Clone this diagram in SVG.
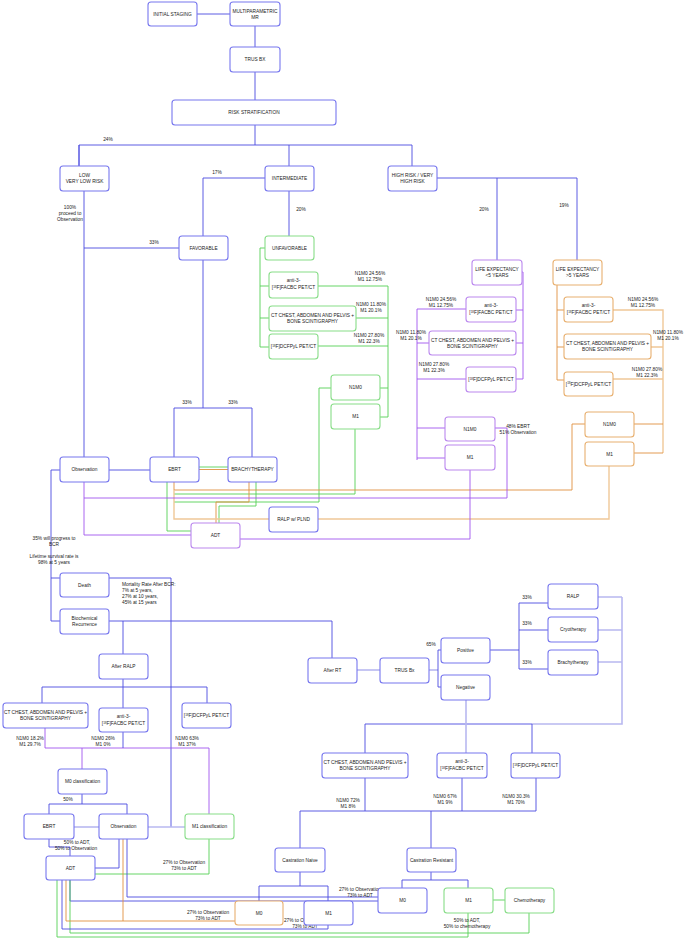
<svg xmlns="http://www.w3.org/2000/svg" width="685" height="940" viewBox="0 0 685 940">
<style>
rect{fill:#fff;stroke-width:1.1}
.b{stroke:#7777ee}.g{stroke:#88dd88}.p{stroke:#bb88ee}.o{stroke:#e8b070}
text{font-family:"Liberation Sans",Arial,sans-serif;font-size:4.8px;fill:#222;text-anchor:middle}
.l{text-anchor:start}
path{fill:none;stroke-width:0.9}
.cb{stroke:#4a4ae0}.cg{stroke:#55d055}.cp{stroke:#a055ee}.co{stroke:#e09040}
.cl{stroke:#b8b8f0;stroke-width:1.6}
.clo{stroke:#f0c898;stroke-width:1.4}
.clp{stroke:#cfa0f4;stroke-width:1.4}
.s{font-size:3px}
</style>
<defs>
<marker id="ab" markerWidth="4" markerHeight="4" refX="3.5" refY="2" orient="auto" markerUnits="userSpaceOnUse"><path d="M0,0.4 L3.5,2 L0,3.6z" fill="#3030d0" stroke="none"/></marker>
<marker id="ag" markerWidth="4" markerHeight="4" refX="3.5" refY="2" orient="auto" markerUnits="userSpaceOnUse"><path d="M0,0.4 L3.5,2 L0,3.6z" fill="#30b030" stroke="none"/></marker>
<marker id="ap" markerWidth="4" markerHeight="4" refX="3.5" refY="2" orient="auto" markerUnits="userSpaceOnUse"><path d="M0,0.4 L3.5,2 L0,3.6z" fill="#8a30e0" stroke="none"/></marker>
<marker id="ao" markerWidth="4" markerHeight="4" refX="3.5" refY="2" orient="auto" markerUnits="userSpaceOnUse"><path d="M0,0.4 L3.5,2 L0,3.6z" fill="#d07820" stroke="none"/></marker>
</defs>

<g id="connectors">
<path class="cb" d="M197 14H230" marker-end="url(#ab)"/>
<path class="cb" d="M255 26V47" marker-end="url(#ab)"/>
<path class="cb" d="M255 72V100" marker-end="url(#ab)"/>
<path class="cb" d="M255 125V145M79 166V145H412V166" marker-end="url(#ab)"/>
<path class="cb" d="M79 145V166" marker-end="url(#ab)"/>
<path class="cb" d="M289 145V166" marker-end="url(#ab)"/>
<path class="cb" d="M265 178H203V236" marker-end="url(#ab)"/>
<path class="cb" d="M289 191V236" marker-end="url(#ab)"/>
<path class="cb" d="M437 178H577V260" marker-end="url(#ab)"/>
<path class="cb" d="M497 178V260" marker-end="url(#ab)"/>
<path class="cb" d="M84 191V457" marker-end="url(#ab)"/>
<path class="cb" d="M179 248H84"/>
<path class="cb" d="M203 260V408H174V457" marker-end="url(#ab)"/>
<path class="cb" d="M203 408H252V457" marker-end="url(#ab)"/>
<path class="cb" d="M150 470H109" marker-end="url(#ab)"/>

<path class="cg" d="M265 248H260V347"/>
<path class="cg" d="M260 286H269" marker-end="url(#ag)"/>
<path class="cg" d="M260 318H269" marker-end="url(#ag)"/>
<path class="cg" d="M260 347H269" marker-end="url(#ag)"/>
<path class="cg" d="M318 286H388V417M356 318H388M318 346H388"/>
<path class="cg" d="M388 388H380" marker-end="url(#ag)"/>
<path class="cg" d="M388 417H380" marker-end="url(#ag)"/>

<path class="cp" d="M522 272H523V379"/>
<path class="cp" d="M523 310H516" marker-end="url(#ap)"/>
<path class="cp" d="M523 343H516" marker-end="url(#ap)"/>
<path class="cp" d="M523 379H516" marker-end="url(#ap)"/>
<path class="cp" d="M466 309H417V460M429 343H417M466 379H417"/>
<path class="cp" d="M417 428H445" marker-end="url(#ap)"/>
<path class="cp" d="M417 458H445" marker-end="url(#ap)"/>

<path class="co" d="M557 285V380"/>
<path class="co" d="M557 310H564" marker-end="url(#ao)"/>
<path class="co" d="M557 347H564" marker-end="url(#ao)"/>
<path class="co" d="M557 380H564" marker-end="url(#ao)"/>
<path class="clo" d="M613 310H663V453M651 347H663M613 379H663"/>
<path class="co" d="M663 424H634" marker-end="url(#ao)"/>
<path class="co" d="M663 453H634" marker-end="url(#ao)"/>

<path class="cg" d="M199 467H228" marker-end="url(#ag)"/>
<path class="co" d="M199 469.5H228" marker-end="url(#ao)"/>
<path class="cg" d="M167 482V531H191" marker-end="url(#ag)"/>
<path class="cg" d="M331 388H319V502H174"/>
<path class="cg" d="M355 429V494H174"/>
<path class="cg" d="M256 482V506H219V523" marker-end="url(#ag)"/>
<path class="co" d="M249 482V502H216V523" marker-end="url(#ao)"/>
<path class="co" d="M585 424H572V490H174V482" marker-end="url(#ao)"/>
<path class="clo" d="M609 466V519H318" marker-end="url(#ao)"/>
<path class="clo" d="M269 519H174V490"/>
<path class="cp" d="M495 428H507V498H84"/>
<path class="cp" d="M191 535H84V482" marker-end="url(#ap)"/>
<path class="cp" d="M470 470V539H240" marker-end="url(#ap)"/>

<path class="cb" d="M60 470H51V621H60" marker-end="url(#ab)"/>
<path class="cb" d="M51 578H60" marker-end="url(#ab)"/>
<path class="cb" d="M109 621H332V658" marker-end="url(#ab)"/>
<path class="cb" d="M123 621V654" marker-end="url(#ab)"/>
<path class="cb" d="M171 827V578H109" marker-end="url(#ab)"/>
<path class="cb" d="M123 679V708" marker-end="url(#ab)"/>
<path class="cb" d="M42 687H207V703" marker-end="url(#ab)"/>
<path class="cb" d="M42 687V703" marker-end="url(#ab)"/>
<path class="cp" d="M45 728V748H209V814" marker-end="url(#ap)"/>
<path class="cb" d="M123 732V748"/>
<path class="cp" d="M82 748V769" marker-end="url(#ap)"/>
<path class="cb" d="M82 794V804H127V814" marker-end="url(#ab)"/>
<path class="cb" d="M82 804H49V814" marker-end="url(#ab)"/>
<path class="cl" d="M74 827H99" marker-end="url(#ab)"/>
<path class="cl" d="M185 827H148" marker-end="url(#ab)"/>
<path class="cb" d="M49 839V847H70V856" marker-end="url(#ab)"/>
<path class="cb" d="M95 868H119V839" marker-end="url(#ab)"/>
<path class="cg" d="M209 839V874H95" marker-end="url(#ag)"/>

<path class="cl" d="M357 670H380" marker-end="url(#ab)"/>
<path class="cl" d="M429 670H438"/>
<path class="cb" d="M438 650V687"/>
<path class="cb" d="M438 650H441" marker-end="url(#ab)"/>
<path class="cb" d="M438 687H441" marker-end="url(#ab)"/>
<path class="cb" d="M490 650H519M519 603V669"/>
<path class="cb" d="M519 603H548" marker-end="url(#ab)"/>
<path class="cb" d="M519 630H548" marker-end="url(#ab)"/>
<path class="cb" d="M519 669H548" marker-end="url(#ab)"/>
<path class="cl" d="M598 597H622M598 630H622M598 662H622M622 597V724H532"/>
<path class="cb" d="M532 724H365V753" marker-end="url(#ab)"/>
<path class="cb" d="M532 724V753" marker-end="url(#ab)"/>
<path class="cl" d="M466 700V753" marker-end="url(#ab)"/>
<path class="cb" d="M365 778V811M462 778V811M536 778V811H300V848" marker-end="url(#ab)"/>
<path class="cb" d="M431 811V848" marker-end="url(#ab)"/>
<path class="cb" d="M300 872V886H259V901" marker-end="url(#ab)"/>
<path class="cb" d="M300 886H328V901" marker-end="url(#ab)"/>
<path class="cb" d="M431 872V880H402V888" marker-end="url(#ab)"/>
<path class="cb" d="M431 880H468V888" marker-end="url(#ab)"/>
<path class="cg" d="M493 900H505" marker-end="url(#ag)"/>
<path class="cb" d="M378 901H70V880" marker-end="url(#ab)"/>
<path class="cg" d="M529 913V933H70V880" marker-end="url(#ag)"/>
<path class="cg" d="M468 913V937H57V880" marker-end="url(#ag)"/>
<path class="cb" d="M378 897H127V839" marker-end="url(#ab)"/>
<path class="co" d="M235 921H66V880" marker-end="url(#ao)"/>
<path class="co" d="M123 921V839" marker-end="url(#ao)"/>
<path class="cb" d="M328 925V929H62V880" marker-end="url(#ab)"/>
</g>

<g id="labels">
<text x="108" y="141">24%</text>
<text x="217" y="174">17%</text>
<text x="301" y="211">20%</text>
<text x="484" y="211">20%</text>
<text x="564" y="207">19%</text>
<text x="70" y="209">100%</text>
<text x="70" y="215">proceed to</text>
<text x="70" y="221">Observation</text>
<text x="154" y="244">33%</text>
<text x="187" y="404">33%</text>
<text x="233" y="404">33%</text>
<text x="370" y="275">N1M0 24.56%</text><text x="370" y="281">M1 12.75%</text>
<text x="371" y="306">N1M0 11.80%</text><text x="371" y="312">M1 20.1%</text>
<text x="369" y="337">N1M0 27.80%</text><text x="369" y="343">M1 22.3%</text>
<text x="441" y="301">N1M0 24.56%</text><text x="441" y="307">M1 12.75%</text>
<text x="411" y="334">N1M0 11.80%</text><text x="411" y="340">M1 20.1%</text>
<text x="434" y="366">N1M0 27.80%</text><text x="434" y="372">M1 22.3%</text>
<text x="643" y="301">N1M0 24.56%</text><text x="643" y="307">M1 12.75%</text>
<text x="668" y="334">N1M0 11.80%</text><text x="668" y="340">M1 20.1%</text>
<text x="647" y="371">N1M0 27.80%</text><text x="647" y="377">M1 22.3%</text>
<text x="518" y="428">48% EBRT</text><text x="518" y="434">51% Observation</text>
<text x="54" y="540">35% will progress to</text><text x="54" y="546">BCR</text>
<text x="54" y="558">Lifetime survival rate is</text><text x="54" y="564">98% at 5 years</text>
<text class="l" x="122" y="586">Mortality Rate After BCR:</text>
<text class="l" x="122" y="592">7% at 5 years,</text>
<text class="l" x="122" y="598">27% at 10 years,</text>
<text class="l" x="122" y="604">45% at 15 years</text>
<text x="30" y="740">N1M0 18.2%</text><text x="30" y="746">M1 29.7%</text>
<text x="103" y="740">N1M0 26%</text><text x="103" y="746">M1 0%</text>
<text x="187" y="740">N1M0 63%</text><text x="187" y="746">M1 37%</text>
<text x="68" y="801">50%</text>
<text x="77" y="844">50% to ADT,</text><text x="76" y="850">50% to Observation</text>
<text x="184" y="864">27% to Observation</text><text x="184" y="870">73% to ADT</text>
<text x="208" y="914">27% to Observation</text><text x="208" y="920">73% to ADT</text>
<text x="305" y="922">27% to Observation</text><text x="305" y="928">73% to ADT</text>
<text x="360" y="891">27% to Observation</text><text x="360" y="897">73% to ADT</text>
<text x="467" y="922">50% to ADT,</text><text x="467" y="928">50% to chemotherapy</text>
<text x="431" y="646">65%</text>
<text x="527" y="599">33%</text>
<text x="527" y="625">33%</text>
<text x="527" y="664">33%</text>
<text x="348" y="802">N1M0 72%</text><text x="348" y="808">M1 8%</text>
<text x="445" y="798">N1M0 67%</text><text x="445" y="804">M1 9%</text>
<text x="516" y="798">N1M0 30.3%</text><text x="516" y="804">M1 70%</text>
</g>

<g id="n_initial"><rect class="b" x="148" y="2" width="49" height="24" rx="3"/><text x="172.5" y="15.7">INITIAL STAGING</text></g>
<g id="n_mpmr"><rect class="b" x="230" y="2" width="50" height="24" rx="3"/><text x="255" y="12.7">MULTIPARAMETRIC</text><text x="255" y="18.7">MR</text></g>
<g id="n_trusbx"><rect class="b" x="230" y="47" width="50" height="25" rx="3"/><text x="255" y="61.2">TRUS BX</text></g>
<g id="n_risk"><rect class="b" x="172" y="100" width="164" height="25" rx="3"/><text x="254" y="114.2">RISK STRATIFICATION</text></g>
<g id="n_low"><rect class="b" x="60" y="166" width="49" height="25" rx="3"/><text x="84.5" y="177.2">LOW</text><text x="84.5" y="183.2">VERY LOW RISK</text></g>
<g id="n_inter"><rect class="b" x="265" y="166" width="49" height="25" rx="3"/><text x="289.5" y="180.2">INTERMEDIATE</text></g>
<g id="n_high"><rect class="b" x="388" y="166" width="49" height="25" rx="3"/><text x="412.5" y="177.2">HIGH RISK / VERY</text><text x="412.5" y="183.2">HIGH RISK</text></g>
<g id="n_fav"><rect class="b" x="179" y="236" width="49" height="24" rx="3"/><text x="203.5" y="249.7">FAVORABLE</text></g>
<g id="n_unfav"><rect class="g" x="265" y="236" width="49" height="24" rx="3"/><text x="289.5" y="249.7">UNFAVORABLE</text></g>
<g id="n_g_facbc"><rect class="g" x="269" y="272" width="49" height="26" rx="3"/><text x="293.5" y="282">anti-3-</text><text x="293.5" y="289">[<tspan class="s" dy="-1.4">18</tspan><tspan dy="1.4">F]FACBC PET/CT</tspan></text></g>
<g id="n_g_ct"><rect class="g" x="269" y="306" width="87" height="25" rx="3"/><text x="312.5" y="317">CT CHEST, ABDOMEN AND PELVIS +</text><text x="312.5" y="323">BONE SCINTIGRAPHY</text></g>
<g id="n_g_dcf"><rect class="g" x="269" y="334" width="49" height="25" rx="3"/><text x="293.5" y="348.2">[<tspan class="s" dy="-1.4">18</tspan><tspan dy="1.4">F]DCFPyL PET/CT</tspan></text></g>
<g id="n_g_n1m0"><rect class="g" x="331" y="375" width="49" height="25" rx="3"/><text x="355.5" y="389.2">N1M0</text></g>
<g id="n_g_m1"><rect class="g" x="331" y="404" width="49" height="25" rx="3"/><text x="355.5" y="418.2">M1</text></g>
<g id="n_le5"><rect class="p" x="472" y="260" width="50" height="25" rx="3"/><text x="497" y="271.2">LIFE EXPECTANCY</text><text x="497" y="277.2">&lt;5 YEARS</text></g>
<g id="n_le5p"><rect class="o" x="553" y="260" width="49" height="25" rx="3"/><text x="577.5" y="271.2">LIFE EXPECTANCY</text><text x="577.5" y="277.2">&gt;5 YEARS</text></g>
<g id="n_p_facbc"><rect class="p" x="466" y="297" width="50" height="25" rx="3"/><text x="491" y="307">anti-3-</text><text x="491" y="314">[<tspan class="s" dy="-1.4">18</tspan><tspan dy="1.4">F]FACBC PET/CT</tspan></text></g>
<g id="n_p_ct"><rect class="p" x="429" y="331" width="87" height="24" rx="3"/><text x="472.5" y="341.5">CT CHEST, ABDOMEN AND PELVIS +</text><text x="472.5" y="347.5">BONE SCINTIGRAPHY</text></g>
<g id="n_p_dcf"><rect class="p" x="466" y="367" width="50" height="25" rx="3"/><text x="491" y="381.2">[<tspan class="s" dy="-1.4">18</tspan><tspan dy="1.4">F]DCFPyL PET/CT</tspan></text></g>
<g id="n_p_n1m0"><rect class="p" x="445" y="417" width="50" height="24" rx="3"/><text x="470" y="430.7">N1M0</text></g>
<g id="n_p_m1"><rect class="p" x="445" y="445" width="50" height="25" rx="3"/><text x="470" y="459.2">M1</text></g>
<g id="n_o_facbc"><rect class="o" x="564" y="297" width="49" height="25" rx="3"/><text x="588.5" y="307">anti-3-</text><text x="588.5" y="314">[<tspan class="s" dy="-1.4">18</tspan><tspan dy="1.4">F]FACBC PET/CT</tspan></text></g>
<g id="n_o_ct"><rect class="o" x="564" y="334" width="87" height="25" rx="3"/><text x="607.5" y="345">CT CHEST, ABDOMEN AND PELVIS +</text><text x="607.5" y="351">BONE SCINTIGRAPHY</text></g>
<g id="n_o_dcf"><rect class="o" x="564" y="372" width="49" height="24" rx="3"/><text x="588.5" y="385.7">[<tspan class="s" dy="-1.4">18</tspan><tspan dy="1.4">F]DCFPyL PET/CT</tspan></text></g>
<g id="n_o_n1m0"><rect class="o" x="585" y="412" width="49" height="25" rx="3"/><text x="609.5" y="426.2">N1M0</text></g>
<g id="n_o_m1"><rect class="o" x="585" y="442" width="49" height="24" rx="3"/><text x="609.5" y="455.7">M1</text></g>
<g id="n_obs"><rect class="b" x="60" y="457" width="49" height="25" rx="3"/><text x="84.5" y="471.2">Observation</text></g>
<g id="n_ebrt"><rect class="b" x="150" y="457" width="49" height="25" rx="3"/><text x="174.5" y="471.2">EBRT</text></g>
<g id="n_brachy"><rect class="b" x="228" y="457" width="49" height="25" rx="3"/><text x="252.5" y="471.2">BRACHYTHERAPY</text></g>
<g id="n_adt"><rect class="p" x="191" y="523" width="49" height="25" rx="3"/><text x="215.5" y="537.2">ADT</text></g>
<g id="n_ralp_plnd"><rect class="b" x="269" y="507" width="49" height="25" rx="3"/><text x="293.5" y="521.2">RALP w/ PLND</text></g>
<g id="n_death"><rect class="b" x="60" y="573" width="49" height="24" rx="3"/><text x="84.5" y="586.7">Death</text></g>
<g id="n_bcr"><rect class="b" x="60" y="609" width="49" height="25" rx="3"/><text x="84.5" y="620.2">Biochemical</text><text x="84.5" y="626.2">Recurrence</text></g>
<g id="n_after_ralp"><rect class="b" x="99" y="654" width="49" height="25" rx="3"/><text x="123.5" y="668.2">After RALP</text></g>
<g id="n_ct2"><rect class="b" x="3" y="703" width="85" height="25" rx="3"/><text x="45.5" y="714">CT CHEST, ABDOMEN AND PELVIS +</text><text x="45.5" y="720">BONE SCINTIGRAPHY</text></g>
<g id="n_facbc2"><rect class="b" x="99" y="708" width="49" height="24" rx="3"/><text x="123.5" y="718">anti-3-</text><text x="123.5" y="725">[<tspan class="s" dy="-1.4">18</tspan><tspan dy="1.4">F]FACBC PET/CT</tspan></text></g>
<g id="n_dcf2"><rect class="b" x="182" y="703" width="49" height="25" rx="3"/><text x="206.5" y="717.2">[<tspan class="s" dy="-1.4">18</tspan><tspan dy="1.4">F]DCFPyL PET/CT</tspan></text></g>
<g id="n_m0class"><rect class="b" x="58" y="769" width="49" height="25" rx="3"/><text x="82.5" y="783.2">M0 classification</text></g>
<g id="n_ebrt2"><rect class="b" x="24" y="814" width="50" height="25" rx="3"/><text x="49" y="828.2">EBRT</text></g>
<g id="n_obs2"><rect class="b" x="99" y="814" width="49" height="25" rx="3"/><text x="123.5" y="828.2">Observation</text></g>
<g id="n_m1class"><rect class="g" x="185" y="814" width="49" height="25" rx="3"/><text x="209.5" y="828.2">M1 classification</text></g>
<g id="n_adt2"><rect class="b" x="46" y="856" width="49" height="24" rx="3"/><text x="70.5" y="869.7">ADT</text></g>
<g id="n_after_rt"><rect class="b" x="308" y="658" width="49" height="25" rx="3"/><text x="332.5" y="672.2">After RT</text></g>
<g id="n_trus2"><rect class="b" x="380" y="658" width="49" height="25" rx="3"/><text x="404.5" y="672.2">TRUS Bx</text></g>
<g id="n_pos"><rect class="b" x="441" y="638" width="49" height="25" rx="3"/><text x="465.5" y="652.2">Positive</text></g>
<g id="n_neg"><rect class="b" x="441" y="675" width="49" height="25" rx="3"/><text x="465.5" y="689.2">Negative</text></g>
<g id="n_ralp"><rect class="b" x="548" y="584" width="50" height="25" rx="3"/><text x="573" y="598.2">RALP</text></g>
<g id="n_cryo"><rect class="b" x="548" y="617" width="50" height="25" rx="3"/><text x="573" y="631.2">Cryotherapy</text></g>
<g id="n_brachy2"><rect class="b" x="548" y="650" width="50" height="25" rx="3"/><text x="573" y="664.2">Brachytherapy</text></g>
<g id="n_ct3"><rect class="b" x="322" y="753" width="86" height="25" rx="3"/><text x="365" y="764">CT CHEST, ABDOMEN AND PELVIS +</text><text x="365" y="770">BONE SCINTIGRAPHY</text></g>
<g id="n_facbc3"><rect class="b" x="437" y="753" width="50" height="25" rx="3"/><text x="462" y="763">anti-3-</text><text x="462" y="770">[<tspan class="s" dy="-1.4">18</tspan><tspan dy="1.4">F]FACBC PET/CT</tspan></text></g>
<g id="n_dcf3"><rect class="b" x="511" y="753" width="49" height="25" rx="3"/><text x="535.5" y="767.2">[<tspan class="s" dy="-1.4">18</tspan><tspan dy="1.4">F]DCFPyL PET/CT</tspan></text></g>
<g id="n_cn"><rect class="b" x="275" y="848" width="50" height="24" rx="3"/><text x="300" y="861.7">Castration Naive</text></g>
<g id="n_cr"><rect class="b" x="407" y="848" width="49" height="24" rx="3"/><text x="431.5" y="861.7">Castration Resistant</text></g>
<g id="n_m0a"><rect class="o" x="235" y="901" width="48" height="24" rx="3"/><text x="259" y="914.7">M0</text></g>
<g id="n_m1a"><rect class="b" x="304" y="901" width="49" height="24" rx="3"/><text x="328.5" y="914.7">M1</text></g>
<g id="n_m0b"><rect class="b" x="378" y="888" width="49" height="25" rx="3"/><text x="402.5" y="902.2">M0</text></g>
<g id="n_m1b"><rect class="g" x="444" y="888" width="49" height="25" rx="3"/><text x="468.5" y="902.2">M1</text></g>
<g id="n_chemo"><rect class="g" x="505" y="888" width="49" height="25" rx="3"/><text x="529.5" y="902.2">Chemotherapy</text></g>
</svg>
